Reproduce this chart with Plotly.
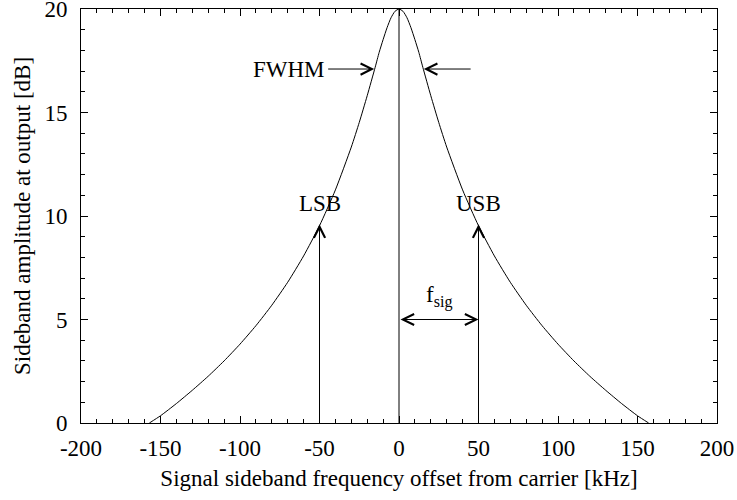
import plotly.graph_objects as go

# Sideband response curve (kHz offset, dB)
freq_khz = [-157, -150, -140, -130, -120, -110, -100, -90, -80, -70, -60, -50, -40,
            -30, -25, -20, -15, -12.5, -10, -7.5, -5, -2.5, 0, 2.5, 5, 7.5, 10, 12.5,
            15, 20, 25, 30, 40, 50, 60, 70, 80, 90, 100, 110, 120, 130, 140, 150, 157]
amp_db = [0.0, 0.35, 0.94, 1.58, 2.26, 3.0, 3.81, 4.7, 5.69, 6.8, 8.07, 9.53, 11.26,
          13.33, 14.52, 15.81, 17.18, 17.9, 18.52, 19.1, 19.58, 19.89, 20.0, 19.89,
          19.58, 19.1, 18.52, 17.9, 17.18, 15.81, 14.52, 13.33, 11.26, 9.53, 8.07,
          6.8, 5.69, 4.7, 3.81, 3.0, 2.26, 1.58, 0.94, 0.35, 0.0]

x_ticks = [-200, -150, -100, -50, 0, 50, 100, 150, 200]
y_ticks = [0, 5, 10, 15, 20]

carrier_x = 0
carrier_top = 20
sideband_x = [-50, 50]
sideband_labels = ["LSB", "USB"]
sideband_arrow_top = 9.6
sideband_label_y = 10.6
fwhm_y = 17.1
fwhm_left = [-45.5, -15.6]
fwhm_right = [46, 15.6]
fsig_y = 5
fsig_label_y = 6.1

FONT = "Liberation Serif, Times New Roman, serif"
FS = 23
HEAD = dict(arrowhead=5, arrowsize=2.2, arrowwidth=1, arrowcolor="black")

fig = go.Figure()
fig.add_trace(go.Scatter(x=freq_khz, y=amp_db, mode="lines",
                         line=dict(color="black", width=1, shape="spline", smoothing=0.6),
                         hoverinfo="skip", showlegend=False))

fig.add_shape(type="line", xref="x", yref="y", x0=carrier_x, x1=carrier_x,
              y0=0, y1=carrier_top, line=dict(color="black", width=1))

ann = []
for sx, lab in zip(sideband_x, sideband_labels):
    ann.append(dict(x=sx, y=sideband_arrow_top, ax=sx, ay=0, xref="x", yref="y",
                    axref="x", ayref="y", showarrow=True, text="", **HEAD))
    ann.append(dict(x=sx, y=sideband_label_y, xref="x", yref="y", text=lab,
                    showarrow=False, font=dict(family=FONT, size=FS, color="black")))

ann.append(dict(x=fwhm_left[1], y=fwhm_y, ax=fwhm_left[0], ay=fwhm_y, xref="x", yref="y",
                axref="x", ayref="y", showarrow=True, text="", **HEAD))
ann.append(dict(x=fwhm_right[1], y=fwhm_y, ax=fwhm_right[0], ay=fwhm_y, xref="x", yref="y",
                axref="x", ayref="y", showarrow=True, text="", **HEAD))
ann.append(dict(x=fwhm_left[0], y=fwhm_y, xref="x", yref="y", text="FWHM",
                xanchor="right", showarrow=False,
                font=dict(family=FONT, size=FS, color="black")))

ann.append(dict(x=sideband_x[1], y=fsig_y, ax=carrier_x, ay=fsig_y, xref="x", yref="y",
                axref="x", ayref="y", showarrow=True, startarrowhead=5,
                arrowside="end+start", startarrowsize=2.2, text="", **HEAD))
ann.append(dict(x=(carrier_x + sideband_x[1]) / 2, y=fsig_label_y, xref="x", yref="y",
                text="f<sub>sig</sub>", showarrow=False,
                font=dict(family=FONT, size=FS, color="black")))

fig.update_layout(
    width=737, height=500,
    margin=dict(l=81, r=20, t=9, b=77, autoexpand=False),
    paper_bgcolor="white", plot_bgcolor="white",
    font=dict(family=FONT, size=FS, color="black"),
    annotations=ann,
    xaxis=dict(range=[-200, 200], tickvals=x_ticks, ticktext=[str(v) for v in x_ticks],
               ticks="inside", ticklen=7, tickwidth=1, tickcolor="black",
               minor=dict(dtick=10, ticks="inside", ticklen=4, tickcolor="black", tickwidth=1),
               showline=True, linecolor="black", linewidth=1, mirror="allticks",
               showgrid=False, zeroline=False, ticklabelstandoff=4, automargin=False,
               ticklabeloverflow="allow", tickfont=dict(family=FONT, size=FS),
               title=dict(text="Signal sideband frequency offset from carrier [kHz]",
                          font=dict(family=FONT, size=FS), standoff=10)),
    yaxis=dict(range=[0, 20], tickvals=y_ticks, ticktext=[str(v) for v in y_ticks],
               ticks="inside", ticklen=7, tickwidth=1, tickcolor="black",
               minor=dict(dtick=1, ticks="inside", ticklen=4, tickcolor="black", tickwidth=1),
               showline=True, linecolor="black", linewidth=1, mirror="allticks",
               showgrid=False, zeroline=False, ticklabelstandoff=8, automargin=False,
               ticklabeloverflow="allow", tickfont=dict(family=FONT, size=FS),
               title=dict(text="Sideband amplitude at output [dB]",
                          font=dict(family=FONT, size=FS), standoff=7)),
)

fig.write_html("out.html")
